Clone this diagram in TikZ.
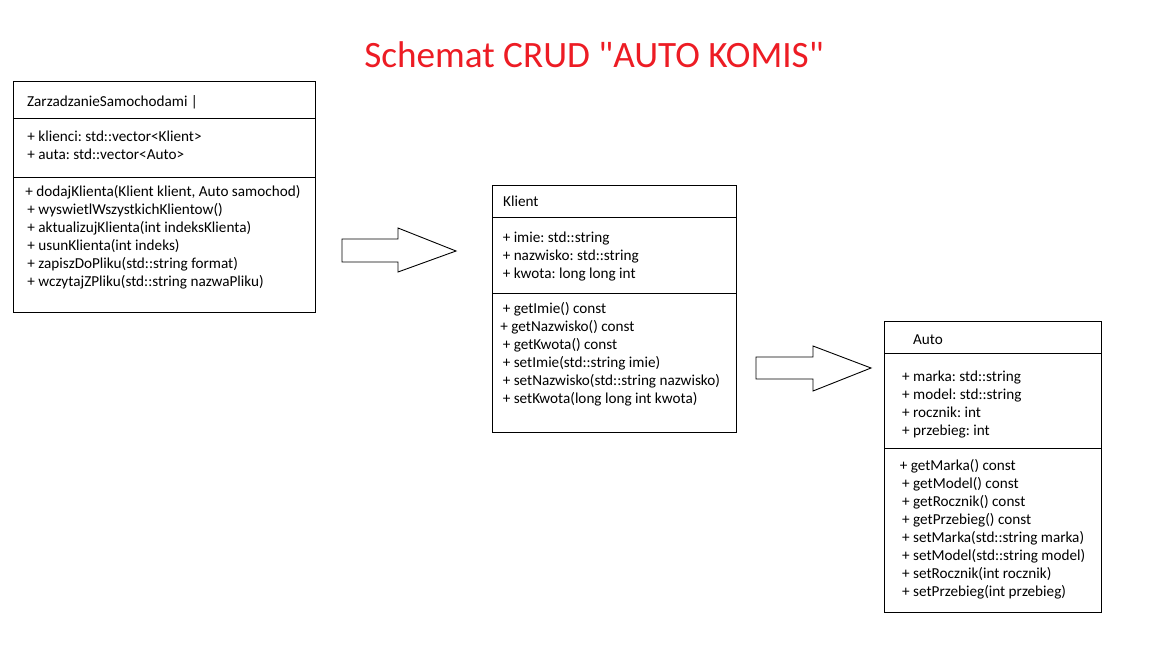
\documentclass[tikz,border=0pt]{standalone}
\usepackage{fontspec}
\setmainfont{Carlito}[Ligatures=TeXOff]
\frenchspacing
\definecolor{titlered}{RGB}{237,28,36}
\begin{document}
\begin{tikzpicture}[x=1pt,y=-1pt,line width=0.9pt,
  txt/.style={anchor=base west,inner sep=0pt,font=\fontsize{15.2}{18}\selectfont},
  umlbox/.style={draw,anchor=north west,inner sep=0pt},
  blockarrow/.style={draw,line width=0.9pt,line join=miter}]
\useasboundingbox[fill=white] (0,0) rectangle (1152,648);

% Title
\node[anchor=base,inner sep=0pt,text=titlered,font=\fontsize{37.2}{43}\selectfont] (title) at (594,67.5) {Schemat CRUD "AUTO KOMIS"};

% Box 1: ZarzadzanieSamochodami
\node[umlbox,minimum width=302pt,minimum height=231pt] (zs) at (13,81) {};
\draw (zs.west |- 0,118) -- (zs.east |- 0,118);
\draw (zs.west |- 0,177) -- (zs.east |- 0,177);
\node[txt] (zs0) at (26.7,106) {ZarzadzanieSamochodami |};
\node[txt] (zs1) at (27,141.7) {+ klienci: std::vector<Klient>};
\node[txt] (zs2) at (27,159.7) {+ auta: std::vector<Auto>};
\node[txt] (zs3) at (25,196) {+ dodajKlienta(Klient klient, Auto samochod)};
\node[txt] (zs4) at (27,214) {+ wyswietlWszystkichKlientow()};
\node[txt] (zs5) at (27,232) {+ aktualizujKlienta(int indeksKlienta)};
\node[txt] (zs6) at (27,250) {+ usunKlienta(int indeks)};
\node[txt] (zs7) at (27,268) {+ zapiszDoPliku(std::string format)};
\node[txt] (zs8) at (27,286) {+ wczytajZPliku(std::string nazwaPliku)};

% Box 2: Klient
\node[umlbox,minimum width=244pt,minimum height=247pt] (kl) at (492,185) {};
\draw (kl.west |- 0,217) -- (kl.east |- 0,217);
\draw (kl.west |- 0,293) -- (kl.east |- 0,293);
\node[txt] (kl0) at (502.7,206) {Klient};
\node[txt] (kl1) at (502.3,242.7) {+ imie: std::string};
\node[txt] (kl2) at (502.3,260.7) {+ nazwisko: std::string};
\node[txt] (kl3) at (502.3,278.7) {+ kwota: long long int};
\node[txt] (kl4) at (502.3,313.3) {+ getImie() const};
\node[txt] (kl5) at (500,331.3) {+ getNazwisko() const};
\node[txt] (kl6) at (502.3,349.3) {+ getKwota() const};
\node[txt] (kl7) at (502.3,367.3) {+ setImie(std::string imie)};
\node[txt] (kl8) at (502.3,385.3) {+ setNazwisko(std::string nazwisko)};
\node[txt] (kl9) at (502.3,403.3) {+ setKwota(long long int kwota)};

% Box 3: Auto
\node[umlbox,minimum width=217pt,minimum height=291pt] (au) at (884,321) {};
\draw (au.west |- 0,353) -- (au.east |- 0,353);
\draw (au.west |- 0,448) -- (au.east |- 0,448);
\node[txt] (au0) at (912.7,344.3) {Auto};
\node[txt] (au1) at (901.7,381) {+ marka: std::string};
\node[txt] (au2) at (901.7,399) {+ model: std::string};
\node[txt] (au3) at (901.7,417) {+ rocznik: int};
\node[txt] (au4) at (901.7,435) {+ przebieg: int};
\node[txt] (au5) at (899.3,470.7) {+ getMarka() const};
\node[txt] (au6) at (901.7,488.7) {+ getModel() const};
\node[txt] (au7) at (901.7,506.7) {+ getRocznik() const};
\node[txt] (au8) at (901.7,524.7) {+ getPrzebieg() const};
\node[txt] (au9) at (901.7,542.7) {+ setMarka(std::string marka)};
\node[txt] (au10) at (901.7,560.7) {+ setModel(std::string model)};
\node[txt] (au11) at (901.7,578.7) {+ setRocznik(int rocznik)};
\node[txt] (au12) at (901.7,596.7) {+ setPrzebieg(int przebieg)};

% Block arrows
\draw[blockarrow] (342,239) -- (398,239) -- (398,228) -- (456,251) -- (398,272) -- (398,262) -- (342,262) -- cycle;
\draw[blockarrow] (756,357) -- (813,357) -- (813,346) -- (871,368) -- (813,391) -- (813,379) -- (756,379) -- cycle;
\end{tikzpicture}
\end{document}
